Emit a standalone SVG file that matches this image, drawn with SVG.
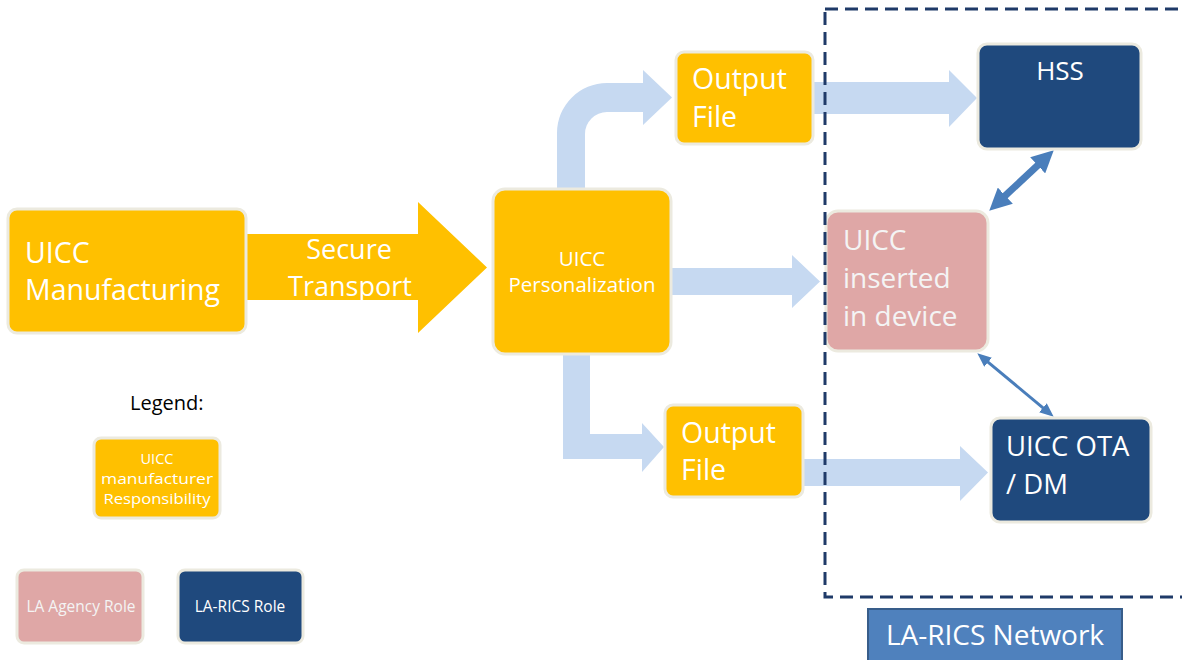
<svg xmlns="http://www.w3.org/2000/svg" width="1182" height="660" viewBox="0 0 1182 660">
<style>
text{font-family:"Open Sans","Noto Sans",sans-serif;}
.box{stroke:#ECEADF;stroke-width:3;}
.y{fill:#FFC000;}
.p{fill:#DFA7A6;}
.n{fill:#1F497D;}
.t{fill:#FFFFFF;}
.tp{fill:#F4F4F4;}
.flow{fill:#C6D9F1;}
.dbl{stroke:#4A7EBB;fill:none;}
</style>
<defs>
<marker id="ah1" markerUnits="userSpaceOnUse" markerWidth="22" markerHeight="22" refX="7" refY="11" orient="auto-start-reverse" viewBox="0 0 22 22">
<path d="M0,0 L22,11 L0,22 Z" fill="#4A7EBB"/>
</marker>
<marker id="ah2" markerUnits="userSpaceOnUse" markerWidth="14" markerHeight="12" refX="4" refY="6" orient="auto-start-reverse" viewBox="0 0 14 12">
<path d="M0,0 L14,6 L0,12 Z" fill="#4A7EBB"/>
</marker>
</defs>
<rect width="1182" height="660" fill="#FFFFFF"/>

<g id="connectors">
<polygon id="secure-transport" class="y" points="240,234 418,234 418,202 487,267.5 418,333 418,300 240,300"/>
<path id="to-output-top" class="flow" d="M557,195 L557,133 A50,50 0 0 1 607,83 L643,83 L643,70 L672,97.5 L643,125 L643,112 L607,112 A22,22 0 0 0 585,134 L585,195 Z"/>
<polygon id="to-device" class="flow" points="665,268 792,268 792,255 820,281.5 792,308 792,295 665,295"/>
<polygon id="to-output-bottom" class="flow" points="563,348 590,348 590,434 642,434 642,423 664,447 642,472 642,459 563,459"/>
<polygon id="to-hss" class="flow" points="808,82 949,82 949,70 977,98 949,127 949,114 808,114"/>
<polygon id="to-ota" class="flow" points="798,459 960,459 960,446 988,472.5 960,501 960,486 798,486"/>
<line class="dbl" stroke-width="7" x1="1000.2" y1="200.4" x2="1042.8" y2="160.6" marker-start="url(#ah1)" marker-end="url(#ah1)"/>
<line class="dbl" stroke-width="3" x1="985" y1="359.7" x2="1046" y2="410.3" marker-start="url(#ah2)" marker-end="url(#ah2)"/>
<text class="t" font-size="27" text-anchor="middle" x="349" y="259">Secure</text>
<text class="t" font-size="27" text-anchor="middle" x="350" y="296">Transport</text>
</g>

<g id="uicc-manufacturing">
<rect class="box y" x="8" y="209" width="238" height="124" rx="9"/>
<text class="t" font-size="28.5" x="25" y="263">UICC</text>
<text class="t" font-size="28.5" x="25" y="300">Manufacturing</text>
</g>

<g id="uicc-personalization">
<rect class="box y" x="493" y="189" width="178" height="165" rx="12"/>
<text class="t" font-size="20.5" text-anchor="middle" x="582" y="266">UICC</text>
<text class="t" font-size="20.5" text-anchor="middle" x="582" y="292">Personalization</text>
</g>

<g id="output-file-top">
<rect class="box y" x="676" y="52" width="137" height="92" rx="8"/>
<text class="t" font-size="28.5" x="692" y="89">Output</text>
<text class="t" font-size="28.5" x="692" y="127">File</text>
</g>

<g id="output-file-bottom">
<rect class="box y" x="665" y="405" width="138" height="92" rx="8"/>
<text class="t" font-size="28.5" x="681" y="443">Output</text>
<text class="t" font-size="28.5" x="681" y="480">File</text>
</g>

<g id="hss">
<rect class="box n" x="978" y="44" width="163" height="105" rx="9"/>
<text class="t" font-size="26" text-anchor="middle" x="1060" y="80">HSS</text>
</g>

<g id="uicc-device">
<rect class="box p" x="826" y="211" width="162" height="140" rx="12"/>
<text class="tp" font-size="28" x="843" y="250">UICC</text>
<text class="tp" font-size="28" x="843" y="288">inserted</text>
<text class="tp" font-size="28" x="843" y="326">in device</text>
</g>

<g id="uicc-ota">
<rect class="box n" x="991" y="418" width="160" height="104" rx="9"/>
<text class="t" font-size="27.5" x="1006" y="456">UICC OTA</text>
<text class="t" font-size="27.5" x="1006" y="494">/ DM</text>
</g>

<g id="la-rics-network-boundary">
<rect x="825" y="9" width="370" height="588" fill="none" stroke="#1F3A68" stroke-width="3" stroke-dasharray="13 7"/>
</g>

<g id="la-rics-network-label">
<rect x="868" y="609" width="254" height="60" fill="#4F81BD" stroke="#385D8A" stroke-width="2"/>
<text class="t" font-size="28" text-anchor="middle" x="995" y="645">LA-RICS Network</text>
</g>

<g id="legend">
<text font-size="20" fill="#000000" x="130" y="410">Legend:</text>
</g>

<g id="legend-manufacturer">
<rect class="box y" x="94" y="438" width="126" height="80" rx="7"/>
<text class="t" font-size="14.5" text-anchor="middle" x="157" y="464">UICC</text>
<text class="t" font-size="14.5" text-anchor="middle" x="157" y="484" textLength="112" lengthAdjust="spacingAndGlyphs">manufacturer</text>
<text class="t" font-size="14.5" text-anchor="middle" x="157" y="504" textLength="107" lengthAdjust="spacingAndGlyphs">Responsibility</text>
</g>

<g id="legend-agency">
<rect class="box p" x="17" y="570" width="126" height="73" rx="7"/>
<text class="tp" font-size="15.5" text-anchor="middle" x="81" y="612">LA Agency Role</text>
</g>

<g id="legend-larics">
<rect class="box n" x="178" y="570" width="125" height="73" rx="7"/>
<text class="t" font-size="15.5" text-anchor="middle" x="240" y="612">LA-RICS Role</text>
</g>
</svg>
